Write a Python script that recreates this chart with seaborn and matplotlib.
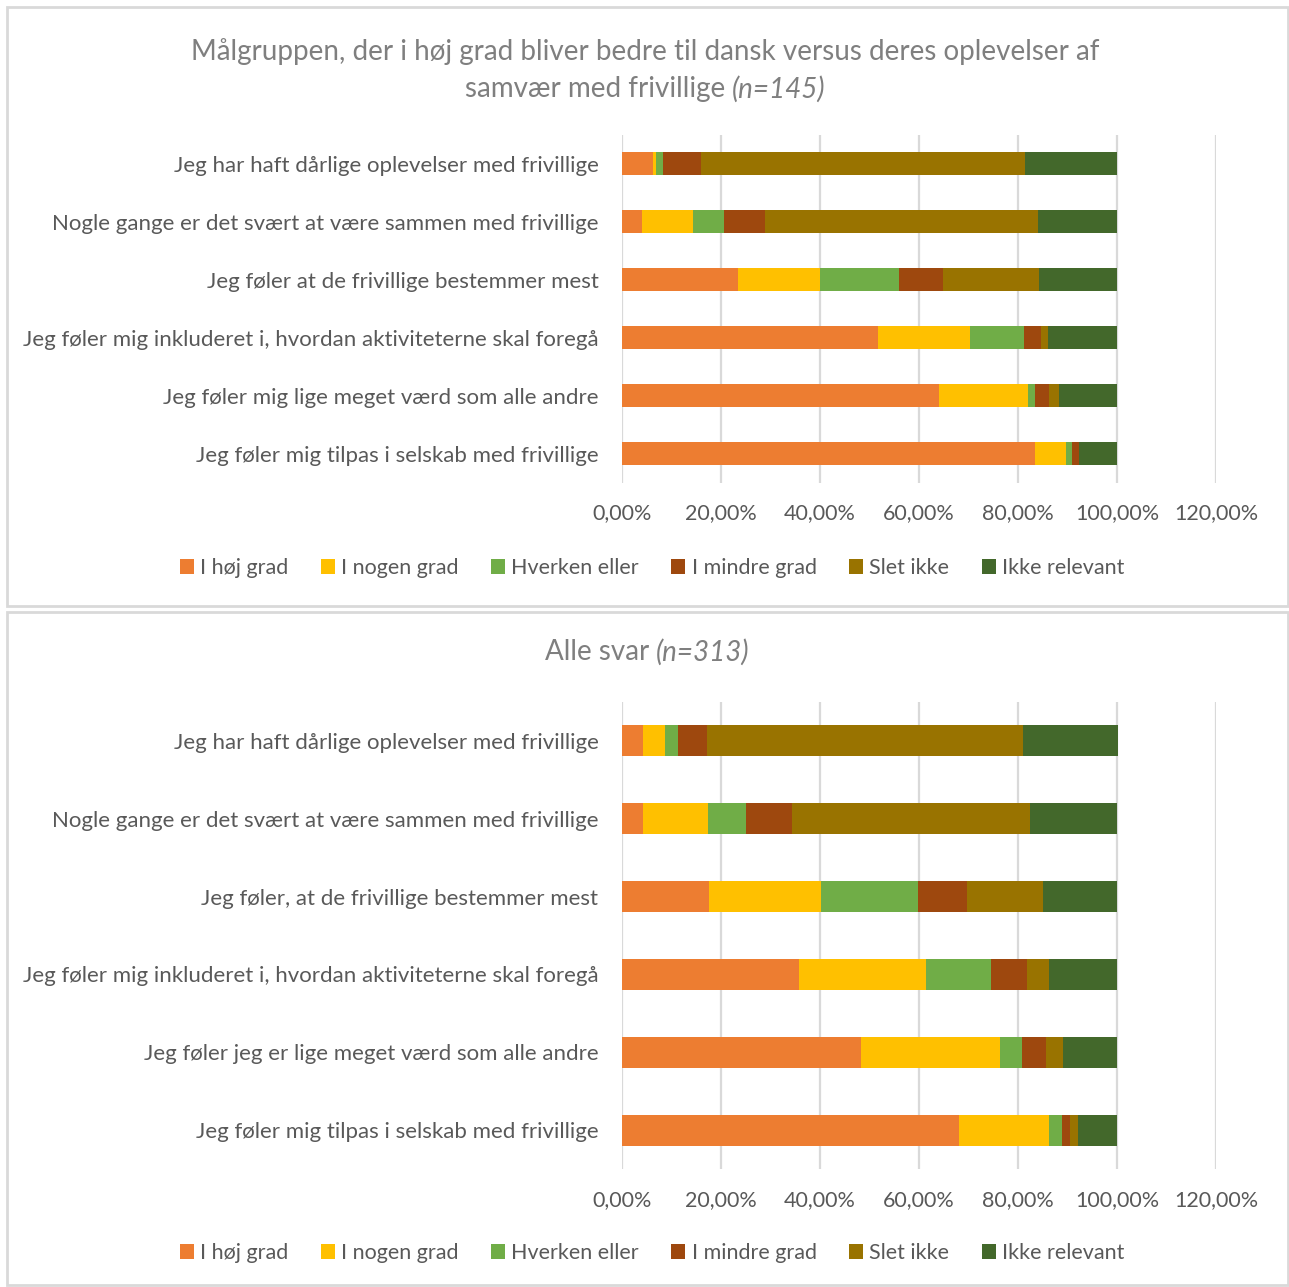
import numpy as np
import pandas as pd
import matplotlib
matplotlib.use("Agg")
import matplotlib.pyplot as plt
from matplotlib.patches import Patch, Rectangle
import seaborn as sns

# Series names and colours (Excel colourful palette)
series_names = ["I høj grad", "I nogen grad", "Hverken eller", "I mindre grad", "Slet ikke", "Ikke relevant"]
series_colors = ["#ED7D31", "#FFC000", "#70AD47", "#9E480E", "#997300", "#43682B"]

# Top chart: target group (n=145), values in percent
cats_top = [
    "Jeg har haft dårlige oplevelser med frivillige",
    "Nogle gange er det svært at være sammen med frivillige",
    "Jeg føler at de frivillige bestemmer mest",
    "Jeg føler mig inkluderet i, hvordan aktiviteterne skal foregå",
    "Jeg føler mig lige meget værd som alle andre",
    "Jeg føler mig tilpas i selskab med frivillige",
]
hoj_top = [6.2, 4.1, 23.4, 51.7, 64.1, 83.4]
nogen_top = [0.7, 10.3, 16.6, 18.6, 17.9, 6.2]
hverken_top = [1.4, 6.2, 15.9, 11.0, 1.4, 1.4]
mindre_top = [7.6, 8.3, 9.0, 3.4, 2.8, 1.4]
slet_top = [65.5, 55.2, 19.3, 1.4, 2.1, 0.0]
irrelevant_top = [18.6, 15.9, 15.9, 13.9, 11.7, 7.6]

# Bottom chart: all answers (n=313)
cats_bot = [
    "Jeg har haft dårlige oplevelser med frivillige",
    "Nogle gange er det svært at være sammen med frivillige",
    "Jeg føler, at de frivillige bestemmer mest",
    "Jeg føler mig inkluderet i, hvordan aktiviteterne skal foregå",
    "Jeg føler jeg er lige meget værd som alle andre",
    "Jeg føler mig tilpas i selskab med frivillige",
]
hoj_bot = [4.2, 4.2, 17.6, 35.8, 48.2, 68.1]
nogen_bot = [4.5, 13.1, 22.7, 25.6, 28.1, 18.2]
hverken_bot = [2.6, 7.7, 19.5, 13.1, 4.5, 2.6]
mindre_bot = [5.8, 9.3, 9.9, 7.3, 4.8, 1.6]
slet_bot = [63.9, 48.2, 15.3, 4.5, 3.5, 1.6]
irrelevant_bot = [19.2, 17.6, 15.0, 13.7, 10.9, 7.9]

xticks = [0, 20, 40, 60, 80, 100, 120]

sns.set_style("white")
plt.rcParams["font.family"] = ["Lato", "DejaVu Sans"]

TEXT = "#595959"
TITLE = "#7f7f7f"
GRID = "#d9d9d9"

W, H = 1289, 1287
fig = plt.figure(figsize=(W / 100, H / 100), dpi=100)


def fx(px):
    return px / W


def fy(py):
    return 1 - py / H


def stacked(ax, cats, series):
    df = pd.DataFrame(dict(zip(series_names, series)), index=cats)
    cum = df.cumsum(axis=1)
    # draw from the last cumulative total backwards so earlier segments sit on top
    for name, col in reversed(list(zip(series_names, series_colors))):
        sns.barplot(x=cum[name].values, y=cats, color=col, width=0.4,
                    orient="h", ax=ax, linewidth=0, saturation=1, zorder=3)
    ax.set_xlim(0, 120)
    ax.set_xticks(xticks)
    ax.set_xticklabels([f"{v:.2f}%".replace(".", ",") for v in xticks])
    ax.set_xlabel("")
    ax.set_ylabel("")
    ax.grid(axis="x", color=GRID, linewidth=1.6, zorder=0)
    ax.grid(axis="y", visible=False)
    ax.set_axisbelow(True)
    for s in ax.spines.values():
        s.set_visible(False)
    ax.tick_params(axis="y", length=0, pad=17, labelsize=16, labelcolor=TEXT)
    ax.tick_params(axis="x", length=0, pad=15, labelsize=15.5, labelcolor=TEXT)


def mixed_title(y, normal, italic, cx=645, size=20):
    r = fig.canvas.get_renderer()
    t1 = fig.text(0, fy(y), normal, fontsize=size, color=TITLE, va="center", ha="left")
    t2 = fig.text(0, fy(y), italic, fontsize=size, color=TITLE, va="center", ha="left", style="italic")
    w1 = t1.get_window_extent(r).width
    w2 = t2.get_window_extent(r).width
    x0 = cx - (w1 + w2) / 2
    t1.set_x(fx(x0))
    t2.set_x(fx(x0 + w1))


def legend(y):
    handles = [Patch(facecolor=c, edgecolor="none", label=n) for n, c in zip(series_names, series_colors)]
    fig.legend(handles=handles, loc="center", bbox_to_anchor=(fx(652), fy(y)), ncol=6,
               frameon=False, fontsize=15.5, labelcolor=TEXT, handlelength=0.65, handleheight=0.65,
               handletextpad=0.3, columnspacing=1.5)


# panel borders
for (x0, y0, x1, y1) in [(7, 7, 1288, 606), (7, 612, 1288, 1285)]:
    fig.add_artist(Rectangle((fx(x0), fy(y1)), fx(x1 - x0), (y1 - y0) / H, transform=fig.transFigure,
                             fill=False, edgecolor=GRID, linewidth=2))

ax1 = fig.add_axes([fx(622), fy(482.5), fx(1216 - 622), 348 / H])
stacked(ax1, cats_top, [hoj_top, nogen_top, hverken_top, mindre_top, slet_top, irrelevant_top])

ax2 = fig.add_axes([fx(622), fy(1169), fx(1216 - 622), 467 / H])
stacked(ax2, cats_bot, [hoj_bot, nogen_bot, hverken_bot, mindre_bot, slet_bot, irrelevant_bot])

fig.text(fx(645), fy(52), "Målgruppen, der i høj grad bliver bedre til dansk versus deres oplevelser af",
         fontsize=20, color=TITLE, ha="center", va="center")
mixed_title(89, "samvær med frivillige ", "(n=145)")
mixed_title(652, "Alle svar ", "(n=313)", cx=647)

legend(568)
legend(1253)

fig.savefig("out.png", dpi=100)
